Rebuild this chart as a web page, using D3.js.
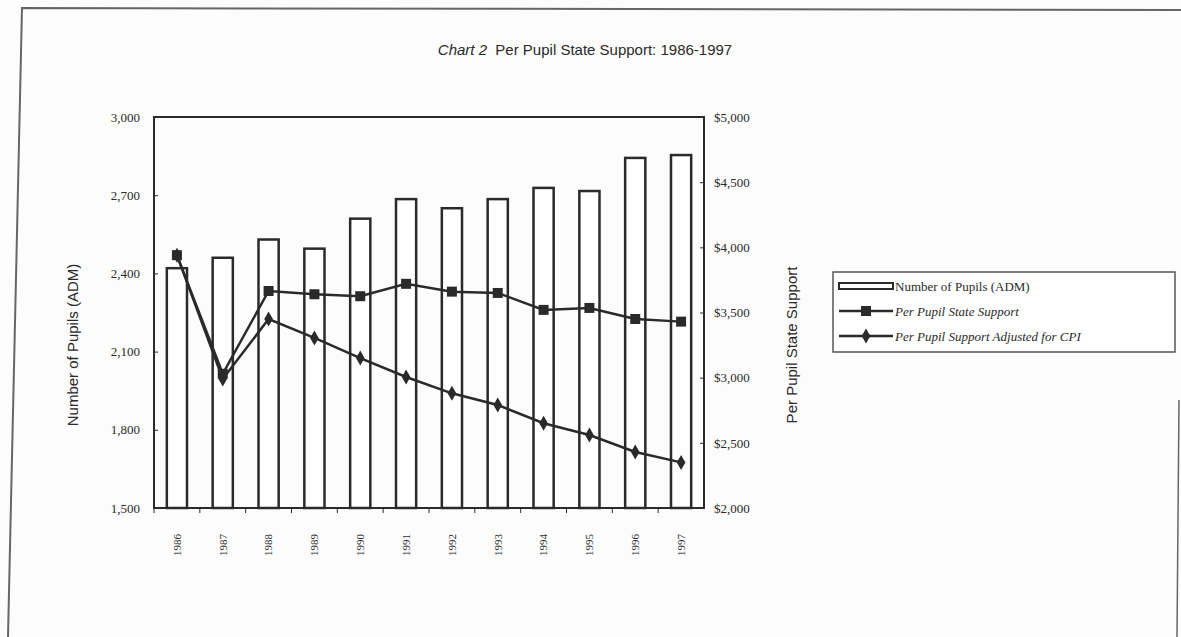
<!DOCTYPE html>
<html>
<head>
<meta charset="utf-8">
<script src="https://cdn.jsdelivr.net/npm/d3@7"></script>
<style>
  body { margin: 0; background: #fcfcfc; }
  svg { display: block; }
</style>
</head>
<body>
<div id="graph"></div>
<script>
var width = 1181;
var height = 637;

// data
var years = ['1986', '1987', '1988', '1989', '1990', '1991', '1992', '1993', '1994', '1995', '1996', '1997'];
var pupils = [2420, 2460, 2530, 2495, 2610, 2685, 2650, 2685, 2728, 2716, 2843, 2854];
var stateSupport = [3940, 3030, 3665, 3640, 3625, 3720, 3660, 3650, 3520, 3535, 3450, 3430];
var cpiSupport = [3940, 2990, 3450, 3305, 3150, 3005, 2880, 2790, 2650, 2560, 2430, 2350];
var leftTicks = [1500, 1800, 2100, 2400, 2700, 3000];
var rightTicks = [2000, 2500, 3000, 3500, 4000, 4500, 5000];
var legendLabels = ['Number of Pupils (ADM)', 'Per Pupil State Support', 'Per Pupil Support Adjusted  for CPI'];

var plot = { left: 154, right: 704, top: 117, bottom: 508 };
var ink = '#2a2a2a';
var serif = '"Liberation Serif", "Times New Roman", serif';
var sans = '"Liberation Sans", Arial, sans-serif';

var svg = d3.select('#graph')
    .append('svg')
    .attr('width', width)
    .attr('height', height);

// edges of the scanned page
svg.append('path')
    .attr('d', 'M8,637 L22,8 L1181,10')
    .attr('fill', 'none')
    .attr('stroke', '#666')
    .attr('stroke-width', 2);
svg.append('line')
    .attr('x1', 1179).attr('y1', 400)
    .attr('x2', 1177).attr('y2', 637)
    .attr('stroke', '#666')
    .attr('stroke-width', 1.5);

var x = d3.scaleBand()
    .domain(years)
    .range([plot.left, plot.right])
    .padding(0);

var yLeft = d3.scaleLinear()
    .domain([1500, 3000])
    .range([plot.bottom, plot.top]);

var yRight = d3.scaleLinear()
    .domain([2000, 5000])
    .range([plot.bottom, plot.top]);

var barW = x.bandwidth() * 0.44;
var cx = function(d) { return x(d) + x.bandwidth() / 2; };

// title
var title = svg.append('text')
    .attr('x', 585)
    .attr('y', 55)
    .attr('text-anchor', 'middle')
    .attr('font-family', sans)
    .attr('font-size', 15)
    .attr('fill', ink);
title.append('tspan').attr('font-style', 'italic').text('Chart 2');
title.append('tspan').text('\u00a0 Per Pupil State Support: 1986-1997');

// plot frame
svg.append('rect')
    .attr('x', plot.left).attr('y', plot.top)
    .attr('width', plot.right - plot.left)
    .attr('height', plot.bottom - plot.top)
    .attr('fill', 'none')
    .attr('stroke', ink)
    .attr('stroke-width', 2);

// bars
svg.append('g').selectAll('rect')
    .data(years)
    .enter()
    .append('rect')
    .attr('x', function(d) { return cx(d) - barW / 2; })
    .attr('y', function(d, i) { return yLeft(pupils[i]); })
    .attr('width', barW)
    .attr('height', function(d, i) { return plot.bottom - yLeft(pupils[i]); })
    .attr('fill', '#fff')
    .attr('stroke', ink)
    .attr('stroke-width', 2.5);

// left axis
var leftAxis = d3.axisLeft(yLeft)
    .tickValues(leftTicks)
    .tickSize(-4)
    .tickPadding(14)
    .tickFormat(d3.format(','));
var gl = svg.append('g')
    .attr('transform', 'translate(' + plot.left + ',0)')
    .call(leftAxis);

// right axis
var rightAxis = d3.axisRight(yRight)
    .tickValues(rightTicks)
    .tickSize(-4)
    .tickPadding(10)
    .tickFormat(function(d) { return '$' + d3.format(',')(d); });
var gr = svg.append('g')
    .attr('transform', 'translate(' + plot.right + ',0)')
    .call(rightAxis);

// bottom axis with ticks between categories
var gb = svg.append('g')
    .attr('transform', 'translate(0,' + plot.bottom + ')')
    .call(d3.axisBottom(x).tickSize(0));
gb.selectAll('text')
    .attr('transform', 'rotate(-90)')
    .attr('x', -37)
    .attr('y', 0)
    .attr('dy', '0.35em')
    .attr('text-anchor', 'middle')
    .attr('font-size', 11);
gb.selectAll('.between')
    .data(years)
    .enter()
    .append('line')
    .attr('class', 'between')
    .attr('x1', function(d) { return x(d); })
    .attr('x2', function(d) { return x(d); })
    .attr('y1', 0).attr('y2', 5)
    .attr('stroke', ink);

[gl, gr, gb].forEach(function(g) {
    g.select('.domain').remove();
    g.selectAll('.tick line').attr('stroke', ink);
    g.selectAll('text')
        .attr('font-family', serif)
        .attr('fill', ink);
});
gl.selectAll('text').attr('font-size', 13);
gr.selectAll('text').attr('font-size', 13);

// axis titles
svg.append('text')
    .attr('transform', 'translate(78,345) rotate(-90)')
    .attr('text-anchor', 'middle')
    .attr('font-family', sans)
    .attr('font-size', 15)
    .attr('fill', ink)
    .text('Number of Pupils (ADM)');

svg.append('text')
    .attr('transform', 'translate(797,345) rotate(-90)')
    .attr('text-anchor', 'middle')
    .attr('font-family', sans)
    .attr('font-size', 15)
    .attr('fill', ink)
    .text('Per Pupil State Support');

// lines
var line = d3.line()
    .x(function(d) { return cx(d.year); })
    .y(function(d) { return yRight(d.value); });

var supportPts = years.map(function(y, i) { return { year: y, value: stateSupport[i] }; });
var cpiPts = years.map(function(y, i) { return { year: y, value: cpiSupport[i] }; });

[supportPts, cpiPts].forEach(function(pts) {
    svg.append('path')
        .datum(pts)
        .attr('d', line)
        .attr('fill', 'none')
        .attr('stroke', ink)
        .attr('stroke-width', 2.5);
});

var square = d3.symbol().type(d3.symbolSquare).size(100);
var diamond = d3.symbol().type(d3.symbolDiamond).size(65);

svg.append('g').selectAll('path')
    .data(supportPts)
    .enter()
    .append('path')
    .attr('d', square)
    .attr('transform', function(d) { return 'translate(' + cx(d.year) + ',' + yRight(d.value) + ')'; })
    .attr('fill', ink);

svg.append('g').selectAll('path')
    .data(cpiPts)
    .enter()
    .append('path')
    .attr('d', diamond)
    .attr('transform', function(d) { return 'translate(' + cx(d.year) + ',' + yRight(d.value) + ')'; })
    .attr('fill', ink);

// legend
var legend = svg.append('g').attr('transform', 'translate(833,272)');
legend.append('rect')
    .attr('width', 342).attr('height', 80)
    .attr('fill', '#fff')
    .attr('stroke', '#555')
    .attr('stroke-width', 1.5);

legend.append('rect')
    .attr('x', 6).attr('y', 11)
    .attr('width', 54).attr('height', 6)
    .attr('fill', '#fff')
    .attr('stroke', ink)
    .attr('stroke-width', 2);

[1, 2].forEach(function(k) {
    var yy = 14 + k * 25;
    legend.append('line')
        .attr('x1', 6).attr('x2', 60)
        .attr('y1', yy).attr('y2', yy)
        .attr('stroke', ink)
        .attr('stroke-width', 2.5);
    legend.append('path')
        .attr('d', k === 1 ? square : diamond)
        .attr('transform', 'translate(33,' + yy + ')')
        .attr('fill', ink);
});

legend.selectAll('.lbl')
    .data(legendLabels)
    .enter()
    .append('text')
    .attr('class', 'lbl')
    .attr('x', 62)
    .attr('y', function(d, i) { return 14 + i * 25; })
    .attr('dy', '0.35em')
    .attr('font-family', serif)
    .attr('font-size', 13)
    .attr('font-style', function(d, i) { return i === 0 ? 'normal' : 'italic'; })
    .attr('fill', ink)
    .text(function(d) { return d; });
</script>
</body>
</html>
